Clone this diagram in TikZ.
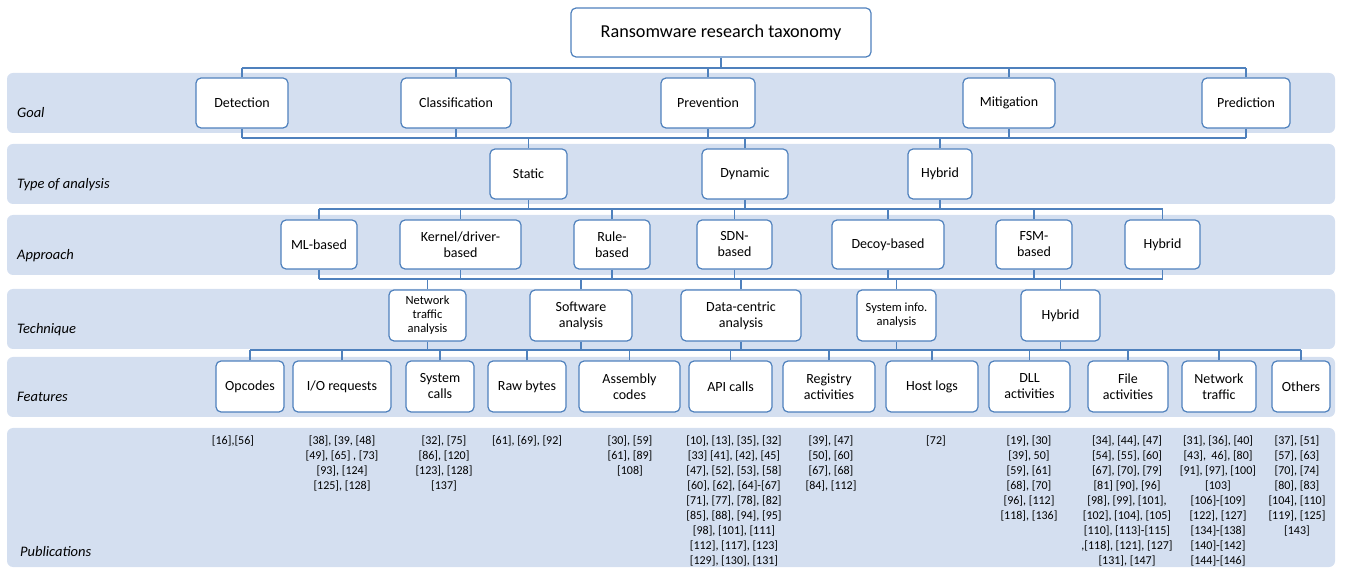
\documentclass[tikz,border=0pt]{standalone}
\usepackage{fontspec}
\setmainfont{Carlito}
\definecolor{band}{RGB}{212,223,240}
\definecolor{edge}{RGB}{79,129,189}
\tikzset{
 bandbox/.style={fill=band, draw=none, rounded corners=6pt},
 tbox/.style={draw=edge, line width=1.2pt, fill=white, rounded corners=5pt, align=center, inner sep=1pt, font=\fontsize{14}{16}\selectfont},
 smallbox/.style={tbox, font=\fontsize{12.5}{14}\selectfont},
 conn/.style={draw=edge, line width=1.6pt},
 bus/.style={draw=edge, line width=2pt},
 rowlabel/.style={anchor=west, font=\fontsize{14.5}{16}\selectfont\itshape, inner sep=0},
 pub/.style={anchor=north, align=center, inner sep=0, font=\fontsize{12}{14.9}\selectfont},
}
\begin{document}
\begin{tikzpicture}[x=1pt,y=-1pt]
\useasboundingbox (0,0) rectangle (1345,569);
% bands
\fill[bandbox] (7,73) rectangle (1335,133);
\fill[bandbox] (7,144) rectangle (1335,204);
\fill[bandbox] (7,215) rectangle (1335,275);
\fill[bandbox] (7,289) rectangle (1335,349);
\fill[bandbox] (7,357) rectangle (1335,417);
\fill[bandbox] (7,428) rectangle (1335,567);
% row labels
\node[rowlabel] (lgoal) at (17,113) {Goal};
\node[rowlabel] (ltype) at (17,185) {Type of analysis};
\node[rowlabel] (lappr) at (17,256) {Approach};
\node[rowlabel] (ltech) at (17,330) {Technique};
\node[rowlabel] (lfeat) at (17,397) {Features};
\node[rowlabel] (lpub) at (20,552) {Publications};
% bus levels
\coordinate (y1) at (0,68);
\coordinate (y2) at (0,138);
\coordinate (y3) at (0,209);
\coordinate (y4) at (0,279);
\coordinate (y5) at (0,350);
% title
\node[tbox, minimum width=300, minimum height=49, font=\fontsize{18.2}{20}\selectfont] (title) at (721,32.5) {Ransomware research taxonomy};
% goal
\node[tbox, minimum width=92, minimum height=50] (det) at (242,103) {Detection};
\node[tbox, minimum width=110, minimum height=50] (cls) at (456,103) {Classification};
\node[tbox, minimum width=94, minimum height=50] (prev) at (708,103) {Prevention};
\node[tbox, minimum width=92, minimum height=50] (mit) at (1009,103) {Mitigation};
\node[tbox, minimum width=88, minimum height=50] (pred) at (1246,103) {Prediction};
% type
\node[tbox, minimum width=77, minimum height=50] (stat) at (528.5,174) {Static};
\node[tbox, minimum width=86, minimum height=50] (dyn) at (745,174) {Dynamic};
\node[tbox, minimum width=64, minimum height=50] (hyb) at (940,174) {Hybrid};
% approach
\node[tbox, minimum width=76, minimum height=49] (ml) at (319,244.5) {ML-based};
\node[tbox, minimum width=121, minimum height=49] (ker) at (460.5,244.5) {Kernel/driver-\\based};
\node[tbox, minimum width=76, minimum height=49] (rule) at (612,244.5) {Rule-\\based};
\node[tbox, minimum width=75, minimum height=49] (sdn) at (734.5,244.5) {SDN-\\based};
\node[tbox, minimum width=112, minimum height=49] (decoy) at (888,244.5) {Decoy-based};
\node[tbox, minimum width=76, minimum height=49] (fsm) at (1034,244.5) {FSM-\\based};
\node[tbox, minimum width=75, minimum height=49] (ahyb) at (1162.5,244.5) {Hybrid};
% technique
\node[smallbox, minimum width=77, minimum height=51] (net) at (427.5,315.5) {Network\\traffic\\analysis};
\node[tbox, minimum width=102, minimum height=51] (soft) at (581,315.5) {Software\\analysis};
\node[tbox, minimum width=120, minimum height=51] (data) at (741,315.5) {Data-centric\\analysis};
\node[smallbox, minimum width=79, minimum height=51] (sys) at (896.5,315.5) {System info.\\analysis};
\node[tbox, minimum width=79, minimum height=51] (thyb) at (1060.5,315.5) {Hybrid};
% features
\node[tbox, minimum width=68, minimum height=51] (opc) at (250,386.5) {Opcodes};
\node[tbox, minimum width=98, minimum height=51] (io) at (342,386.5) {I/O requests};
\node[tbox, minimum width=68, minimum height=51] (sc) at (440,386.5) {System\\calls};
\node[tbox, minimum width=78, minimum height=51] (raw) at (527,386.5) {Raw bytes};
\node[tbox, minimum width=101, minimum height=51] (asm) at (629.5,386.5) {Assembly\\codes};
\node[tbox, minimum width=83, minimum height=51] (api) at (730.5,386.5) {API calls};
\node[tbox, minimum width=92, minimum height=51] (reg) at (829,386.5) {Registry\\activities};
\node[tbox, minimum width=92, minimum height=51] (host) at (932,386.5) {Host logs};
\node[tbox, minimum width=81, minimum height=51] (dll) at (1029.5,386.5) {DLL\\activities};
\node[tbox, minimum width=80, minimum height=51] (file) at (1128,386.5) {File\\activities};
\node[tbox, minimum width=74, minimum height=51] (ntr) at (1219,386.5) {Network\\traffic};
\node[tbox, minimum width=58, minimum height=51] (oth) at (1301,386.5) {Others};
% level 1
\draw[conn] (title.south) -- (title.south |- y1);
\draw[bus] (det.north |- y1) -- (pred.north |- y1);
\foreach \nm in {det,cls,prev,mit,pred} \draw[conn] (\nm.north) -- (\nm.north |- y1);
% level 2
\draw[bus] (det.south |- y2) -- (pred.south |- y2);
\foreach \nm in {det,cls,prev,mit,pred} \draw[conn] (\nm.south) -- (\nm.south |- y2);
\foreach \nm in {stat,dyn,hyb} \draw[conn] (\nm.north) -- (\nm.north |- y2);
% level 3
\draw[bus] (ml.north |- y3) -- (ahyb.north |- y3);
\foreach \nm in {stat,dyn,hyb} \draw[conn] (\nm.south) -- (\nm.south |- y3);
\foreach \nm in {ml,ker,rule,sdn,decoy,fsm,ahyb} \draw[conn] (\nm.north) -- (\nm.north |- y3);
% level 4
\draw[bus] (ml.south |- y4) -- (ahyb.south |- y4);
\foreach \nm in {ml,ker,rule,sdn,decoy,fsm,ahyb} \draw[conn] (\nm.south) -- (\nm.south |- y4);
\foreach \nm in {net,soft,data,sys,thyb} \draw[conn] (\nm.north) -- (\nm.north |- y4);
% level 5
\draw[bus] (opc.north |- y5) -- (oth.north |- y5);
\foreach \nm in {net,soft,data,sys,thyb} \draw[conn] (\nm.south) -- (\nm.south |- y5);
\foreach \nm in {opc,io,sc,raw,asm,api,reg,host,dll,file,ntr,oth} \draw[conn] (\nm.north) -- (\nm.north |- y5);
% publications
\node[pub] (p1) at (233,436) {[16],[56]};
\node[pub] (p2) at (342,436) {[38], [39, [48]\\{}[49], [65] , [73]\\{}[93], [124]\\{}[125], [128]};
\node[pub] (p3) at (444,436) {[32], [75]\\{}[86], [120]\\{}[123], [128]\\{}[137]};
\node[pub] (p4) at (527,436) {[61], [69], [92]};
\node[pub] (p5) at (630,436) {[30], [59]\\{}[61], [89]\\{}[108]};
\node[pub] (p6) at (734,436) {[10], [13], [35], [32]\\{}[33] [41], [42], [45]\\{}[47], [52], [53], [58]\\{}[60], [62], [64]-[67]\\{}[71], [77], [78], [82]\\{}[85], [88], [94], [95]\\{}[98], [101], [111]\\{}[112], [117], [123]\\{}[129], [130], [131]};
\node[pub] (p7) at (831,436) {[39], [47]\\{}[50], [60]\\{}[67], [68]\\{}[84], [112]};
\node[pub] (p8) at (936,436) {[72]};
\node[pub] (p9) at (1029,436) {[19], [30]\\{}[39], 50]\\{}[59], [61]\\{}[68], [70]\\{}[96], [112]\\{}[118], [136]};
\node[pub] (p10) at (1127,436) {[34], [44], [47]\\{}[54], [55], [60]\\{}[67], [70], [79]\\{}[81] [90], [96]\\{}[98], [99], [101],\\{}[102], [104], [105]\\{}[110], [113]-[115]\\{},[118], [121], [127]\\{}[131], [147]};
\node[pub] (p11) at (1218,436) {[31], [36], [40]\\{}[43],\ \ 46], [80]\\{}[91], [97], [100]\\{}[103]\\{}[106]-[109]\\{}[122], [127]\\{}[134]-[138]\\{}[140]-[142]\\{}[144]-[146]};
\node[pub] (p12) at (1297,436) {[37], [51]\\{}[57], [63]\\{}[70], [74]\\{}[80], [83]\\{}[104], [110]\\{}[119], [125]\\{}[143]};
\end{tikzpicture}
\end{document}
